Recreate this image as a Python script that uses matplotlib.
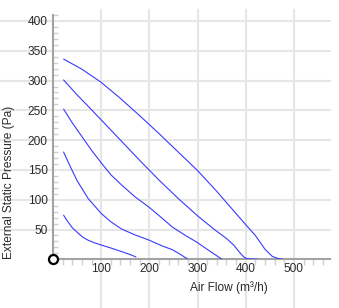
import matplotlib
matplotlib.use("Agg")
import matplotlib.pyplot as plt
from matplotlib.ticker import MultipleLocator, FixedLocator

plt.rcParams['font.family'] = ['Liberation Sans', 'DejaVu Sans']

# ---- data ----
c1_x = [22, 60, 100, 140, 180, 220, 260, 300, 340, 370, 398, 420, 440, 455, 468, 478]
c1_y = [336, 319, 297, 270, 241, 211, 180, 149, 114, 86, 60, 40, 17, 5, 1, 0]
c2_x = [22, 50, 80, 100, 140, 180, 220, 260, 300, 335, 360, 375, 388, 396, 402, 426]
c2_y = [301, 276, 251, 234, 200, 166, 133, 102, 73, 50, 35, 24, 11, 4, 1, 0]
c3_x = [22, 40, 60, 80, 100, 120, 142, 170, 200, 225, 248, 275, 298, 325, 351]
c3_y = [252, 229, 206, 183, 162, 142, 125, 105, 87, 70, 54, 40, 29, 14, 0]
c4_x = [22, 35, 50, 73, 100, 120, 142, 170, 200, 225, 248, 265, 280]
c4_y = [180, 157, 132, 102, 77, 63, 51, 41, 32, 23, 16, 8, 0]
c5_x = [22, 30, 40, 52, 62, 73, 85, 100, 120, 142, 160, 172]
c5_y = [74, 64, 53, 44, 37, 32, 28, 24, 19, 13, 8, 4]
curves = [(c1_x, c1_y), (c2_x, c2_y), (c3_x, c3_y), (c4_x, c4_y), (c5_x, c5_y)]

x_ticks = [100, 200, 300, 400, 500]
y_ticks = [50, 100, 150, 200, 250, 300, 350, 400]
x_label = "Air Flow (m³/h)"
y_label = "External Static Pressure (Pa)"

W, H = 339, 308
fig = plt.figure(figsize=(W / 100, H / 100), dpi=100)
ax = fig.add_axes([53 / W, (H - 259.3) / H, 277 / W, 244.3 / H])
ax.set_xlim(0, 575)
ax.set_ylim(0, 410)
ax.set_facecolor('none')

grid_c = '#e6e6e6'
for y in y_ticks:
    ax.plot([-53 / 277, 1.0], [y, y], transform=ax.get_yaxis_transform(),
            color=grid_c, lw=1.5, clip_on=False, zorder=0)
for x in x_ticks:
    ax.plot([x, x], [(259.3 - 308) / 244.3, (259.3 - 10) / 244.3],
            transform=ax.get_xaxis_transform(),
            color=grid_c, lw=1.5, clip_on=False, zorder=0)

for cx, cy in curves:
    ax.plot(cx, cy, color='#3a3aff', lw=0.8, zorder=3,
            solid_capstyle='round', solid_joinstyle='round')

for s in ['top', 'right']:
    ax.spines[s].set_visible(False)
for s in ['left', 'bottom']:
    ax.spines[s].set_color('#a3a3a3')
    ax.spines[s].set_linewidth(1.5)
    ax.spines[s].set_zorder(2)

ax.xaxis.set_major_locator(FixedLocator(x_ticks))
ax.yaxis.set_major_locator(FixedLocator(y_ticks))
ax.xaxis.set_minor_locator(MultipleLocator(20))
ax.yaxis.set_minor_locator(MultipleLocator(10))

ax.tick_params(axis='y', which='major', length=0, pad=3.8, labelsize=8.6, labelcolor='#2a2a2a')
ax.tick_params(axis='x', which='major', length=0, pad=3.0, labelsize=8.6, labelcolor='#2a2a2a')
ax.tick_params(axis='y', which='minor', direction='in', length=3.5, width=1, color='#d0d0d0')
ax.tick_params(axis='x', which='minor', direction='out', length=4, width=1, color='#d0d0d0')

ax.plot([0], [0], marker='o', markersize=6.5, markerfacecolor='white',
        markeredgecolor='black', markeredgewidth=1.6, clip_on=False, zorder=5)

fig.text(229 / W, 1 - 288 / H, x_label, ha='center', va='center', fontsize=8.6, color='#2a2a2a')
fig.text(9 / W, 1 - 182.5 / H, y_label, ha='center', va='center', rotation=90,
         fontsize=8.6, color='#2a2a2a')

fig.savefig('out.png', dpi=100, facecolor='white')
